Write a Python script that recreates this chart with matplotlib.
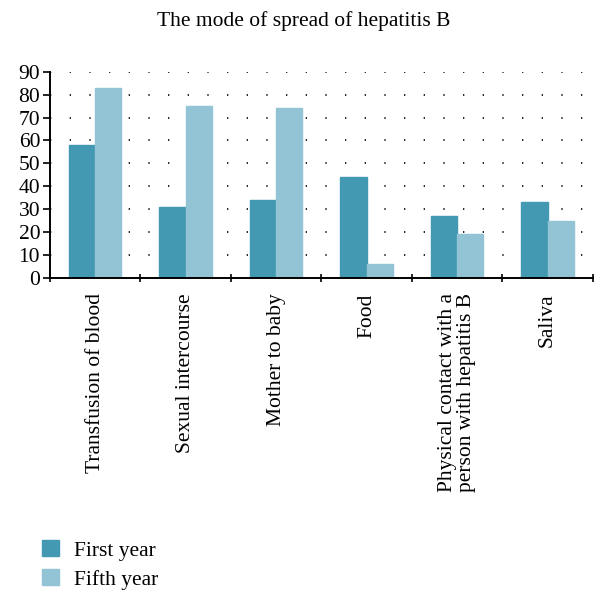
import matplotlib.pyplot as plt
import numpy as np

categories = ['Transfusion of blood', 'Sexual intercourse', 'Mother to baby', 'Food',
              'Physical contact with a\nperson with hepatitis B', 'Saliva']
first_year = [58, 31, 34, 44, 27, 33]
fifth_year = [83, 75, 74, 6, 19, 25]
y_ticks = [0, 10, 20, 30, 40, 50, 60, 70, 80, 90]

plt.rcParams['font.family'] = ['Liberation Serif', 'DejaVu Serif']

fig = plt.figure(figsize=(6.08, 6.03), dpi=100)
ax = fig.add_axes([0.082, 0.539, 0.893, 0.342])

x = np.arange(len(categories))
w = 0.29
ax.bar(x - w / 2, first_year, w, color='#4499b2', edgecolor='#4499b2', label='First year', zorder=2)
ax.bar(x + w / 2, fifth_year, w, color='#93c4d6', edgecolor='#93c4d6', label='Fifth year', zorder=2)

# grid of dots
for v in y_ticks[1:]:
    ax.axhline(v, color='black', linestyle=(0, (0.8, 11)), linewidth=1.2, zorder=1)

ax.set_xlim(-0.5, len(categories) - 0.5)
ax.set_ylim(0, 90)
ax.set_yticks(y_ticks)
ax.tick_params(axis='y', labelsize=15.5, length=5, width=1.2, pad=2)

ax.set_xticks(np.arange(len(categories) + 1) - 0.5)
ax.set_xticklabels([])
ax.tick_params(axis='x', which='major', length=6, width=1.2, direction='inout')
ax.set_xticks(x, minor=True)
ax.set_xticklabels(categories, minor=True, rotation=90, fontsize=15.5, va='top', ha='center',
                   multialignment='left', linespacing=0.95)
ax.tick_params(axis='x', which='minor', length=0, pad=11)

for s in ['top', 'right']:
    ax.spines[s].set_visible(False)
for s in ['left', 'bottom']:
    ax.spines[s].set_linewidth(1.4)

fig.text(0.5, 0.965, 'The mode of spread of hepatitis B', ha='center', va='center', fontsize=15.5)

fig.legend(loc='lower left', bbox_to_anchor=(0.038, -0.01), frameon=False, fontsize=15.5,
           handlelength=0.75, handleheight=0.75, handletextpad=0.7, labelspacing=0.4)

plt.savefig('out.png', dpi=100)
